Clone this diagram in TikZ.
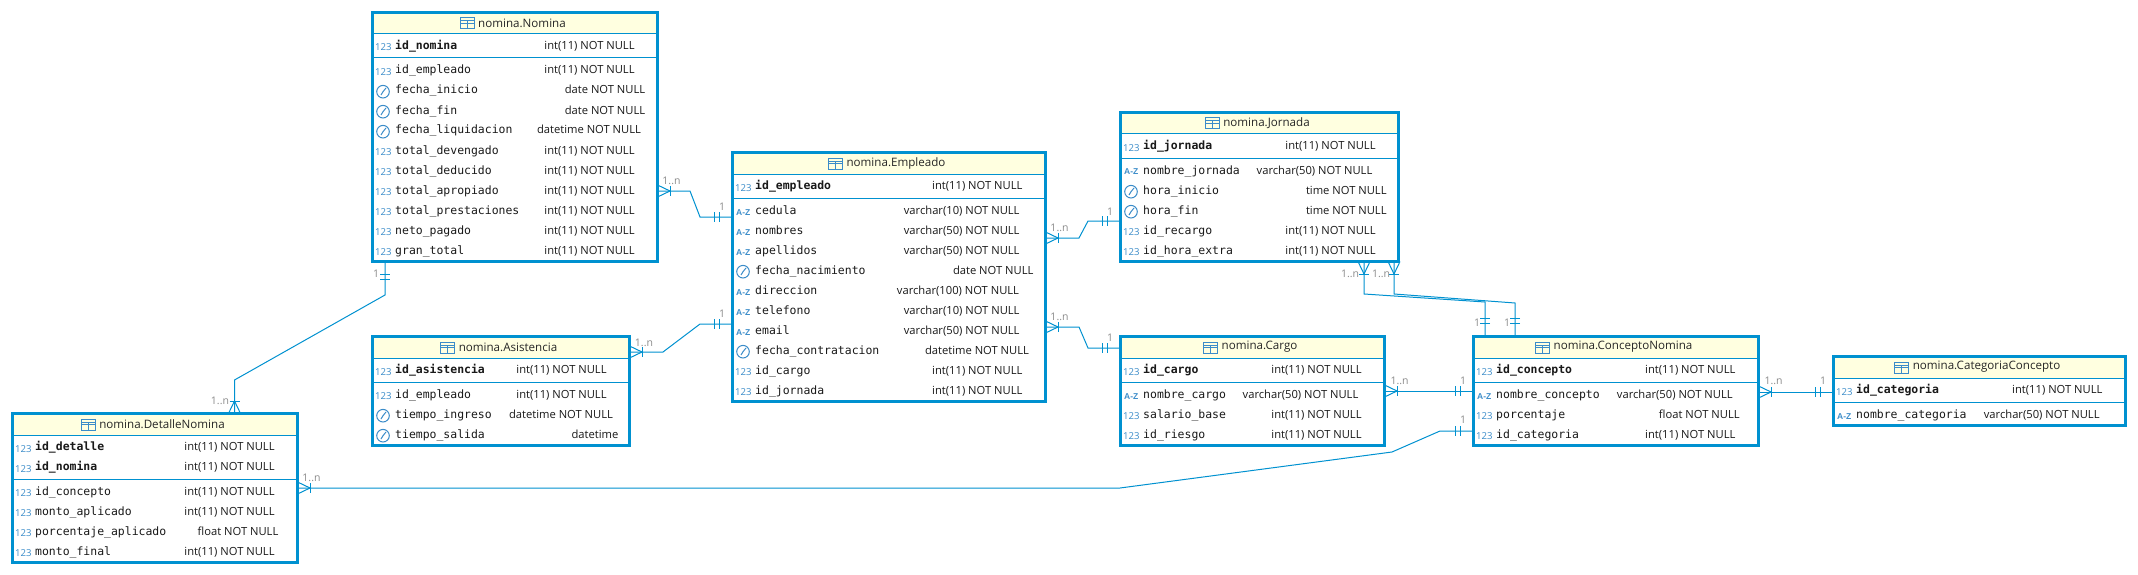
\documentclass[tikz,border=0pt]{standalone}
\usepackage{fontspec}
\setmainfont{Open Sans}
\newfontfamily\colfont{DejaVu Sans Mono}
\newfontfamily\azfont{Liberation Sans}
\usetikzlibrary{decorations.markings}
\definecolor{erblue}{HTML}{0091D0}
\definecolor{iconblue}{HTML}{3B8CC9}
\definecolor{bandyellow}{HTML}{FFFFE0}
\definecolor{cardgray}{HTML}{8C8C8C}
\tikzset{
  % Table box
  tbox/.style={draw=erblue, fill=white, line width=3pt, shape=rectangle,
    inner sep=0pt, outer sep=0pt},
  tband/.style={fill=bandyellow},
  tsep/.style={draw=erblue, line width=1pt},
  ttitle/.style={inner sep=0pt, font=\fontsize{11.6}{13}\selectfont, text=black!85},
  % Columns
  colname/.style={anchor=base west, inner sep=0pt,
    font=\colfont\fontsize{11.46}{13}\selectfont, text=black!90},
  coltype/.style={anchor=base, inner sep=0pt,
    font=\fontsize{11.2}{13}\selectfont, text=black!90},
  icontext/.style={anchor=base west, inner sep=0pt, text=iconblue},
  % Cardinality labels
  card/.style={inner sep=0pt, text=cardgray, font=\fontsize{10.5}{12}\selectfont},
  % Relations, drawn from the many side to the one side
  rel/.style={draw=erblue, line width=1pt, decoration={
      markings,
      mark=at position 12.5pt with {
        \draw[erblue, line width=1pt] (0,-5) -- (0,5);
        \draw[erblue, line width=1pt] (0,0) -- (-12.5,-6);
        \draw[erblue, line width=1pt] (0,0) -- (-12.5,6);},
      mark=at position -18pt with {\draw[erblue, line width=1pt] (0,-5) -- (0,5);},
      mark=at position -13pt with {\draw[erblue, line width=1pt] (0,-5) -- (0,5);}},
    postaction={decorate}},
  % Column icons
  icnum/.pic={\node[icontext, font=\fontsize{9.6}{12}\selectfont] (lbl) at (2.5,1.5) {123};},
  icaz/.pic={\node[icontext, font=\azfont\bfseries\fontsize{8.5}{10}\selectfont] (lbl) at (3.5,1) {A-Z};},
  icclock/.pic={
    \draw[iconblue, line width=1pt] (10.5,-2.3) circle [radius=6.3];
    \draw[iconblue, line width=1pt] (8.5,1) -- (10.5,-2.3) -- (13.5,-6);},
  ictable/.pic={
    \draw[iconblue, line width=1pt] (-7,-5.5) rectangle (7,5.5);
    \draw[iconblue, line width=1pt] (-7,0) -- (7,0) (0,-2) -- (0,5.5);
    \draw[iconblue, line width=1pt] (-7,-2.5) -- (7,-2.5);},
}
% name, centre, width, height, title, offset of the key line
\newcommand{\ertable}[6]{
  \node[tbox, minimum width=#3, minimum height=#4] (#1) at (#2) {};
  \fill[tband] ([shift={(1.5,1.5)}]#1.north west) rectangle ([shift={(-1.5,21.5)}]#1.north east);
  \draw[tsep] ([shift={(0,21.5)}]#1.north west) -- ([shift={(0,21.5)}]#1.north east);
  \draw[tsep] ([shift={(0,#6)}]#1.north west) -- ([shift={(0,#6)}]#1.north east);
  \node[ttitle] (#1-title) at ([shift={(7,10.5)}]#1.north) {#5};
  \pic (#1-icon) at ([shift={(-11,0.5)}]#1-title.west) {ictable};
}
% table, baseline offset, icon, name, type, type centre
\newcommand{\colrow}[6]{
  \pic (#1-i#2) at ([shift={(0,#2)}]#1.north west) {#3};
  \node[colname] (#1-n#2) at ([shift={(22.5,#2)}]#1.north west) {#4};
  \node[coltype] (#1-t#2) at ([shift={(#6,#2)}]#1.north west) {#5};
}
\begin{document}
\begin{tikzpicture}[x=1pt, y=-1pt]
  \useasboundingbox (0,0) rectangle (2138,575);

  \ertable{nomina}{515,137}{285}{249}{nomina.Nomina}{45.5}
  \foreach \yy/\ic/\nm/\ty/\tx in {
    37/icnum/{\bfseries id\_nomina}/int(11) NOT NULL/217,
    61.5/icnum/id\_empleado/int(11) NOT NULL/217,
    81.5/icclock/fecha\_inicio/date NOT NULL/232.5,
    101.5/icclock/fecha\_fin/date NOT NULL/232.5,
    121.5/icclock/fecha\_liquidacion/datetime NOT NULL/216.5,
    141.5/icnum/total\_devengado/int(11) NOT NULL/217,
    161.5/icnum/total\_deducido/int(11) NOT NULL/217,
    181.5/icnum/total\_apropiado/int(11) NOT NULL/217,
    201.5/icnum/total\_prestaciones/int(11) NOT NULL/217,
    221.5/icnum/neto\_pagado/int(11) NOT NULL/217,
    241.5/icnum/gran\_total/int(11) NOT NULL/217}
    {\colrow{nomina}{\yy}{\ic}{\nm}{\ty}{\tx}}

  \ertable{empleado}{889,277}{313}{249}{nomina.Empleado}{45.5}
  \foreach \yy/\ic/\nm/\ty/\tx in {
    37/icnum/{\bfseries id\_empleado}/int(11) NOT NULL/244.8,
    61.5/icaz/cedula/varchar(10) NOT NULL/229.2,
    81.5/icaz/nombres/varchar(50) NOT NULL/229.2,
    101.5/icaz/apellidos/varchar(50) NOT NULL/229.2,
    121.5/icclock/fecha\_nacimiento/date NOT NULL/260.7,
    141.5/icaz/direccion/varchar(100) NOT NULL/225.5,
    161.5/icaz/telefono/varchar(10) NOT NULL/229.2,
    181.5/icaz/email/varchar(50) NOT NULL/229.2,
    201.5/icclock/fecha\_contratacion/datetime NOT NULL/244.5,
    221.5/icnum/id\_cargo/int(11) NOT NULL/244.8,
    241.5/icnum/id\_jornada/int(11) NOT NULL/244.8}
    {\colrow{empleado}{\yy}{\ic}{\nm}{\ty}{\tx}}

  \ertable{detalle}{155,488}{285}{149}{nomina.DetalleNomina}{65.5}
  \foreach \yy/\ic/\nm/\ty/\tx in {
    37/icnum/{\bfseries id\_detalle}/int(11) NOT NULL/217,
    57/icnum/{\bfseries id\_nomina}/int(11) NOT NULL/217,
    81.5/icnum/id\_concepto/int(11) NOT NULL/217,
    101.5/icnum/monto\_aplicado/int(11) NOT NULL/217,
    121.5/icnum/porcentaje\_aplicado/float NOT NULL/225.5,
    141.5/icnum/monto\_final/int(11) NOT NULL/217}
    {\colrow{detalle}{\yy}{\ic}{\nm}{\ty}{\tx}}

  \ertable{asistencia}{501,391}{257}{109}{nomina.Asistencia}{45.5}
  \foreach \yy/\ic/\nm/\ty/\tx in {
    37/icnum/{\bfseries id\_asistencia}/int(11) NOT NULL/189,
    61.5/icnum/id\_empleado/int(11) NOT NULL/189,
    81.5/icclock/tiempo\_ingreso/datetime NOT NULL/188.5,
    101.5/icclock/tiempo\_salida/datetime/222.5}
    {\colrow{asistencia}{\yy}{\ic}{\nm}{\ty}{\tx}}

  \ertable{jornada}{1259.5,187}{278}{149}{nomina.Jornada}{45.5}
  \foreach \yy/\ic/\nm/\ty/\tx in {
    37/icnum/{\bfseries id\_jornada}/int(11) NOT NULL/210,
    61.5/icaz/nombre\_jornada/varchar(50) NOT NULL/194,
    81.5/icclock/hora\_inicio/time NOT NULL/225.8,
    101.5/icclock/hora\_fin/time NOT NULL/225.8,
    121.5/icnum/id\_recargo/int(11) NOT NULL/210,
    141.5/icnum/id\_hora\_extra/int(11) NOT NULL/210}
    {\colrow{jornada}{\yy}{\ic}{\nm}{\ty}{\tx}}

  \ertable{cargo}{1252.5,391}{264}{109}{nomina.Cargo}{45.5}
  \foreach \yy/\ic/\nm/\ty/\tx in {
    37/icnum/{\bfseries id\_cargo}/int(11) NOT NULL/196,
    61.5/icaz/nombre\_cargo/varchar(50) NOT NULL/180,
    81.5/icnum/salario\_base/int(11) NOT NULL/196,
    101.5/icnum/id\_riesgo/int(11) NOT NULL/196}
    {\colrow{cargo}{\yy}{\ic}{\nm}{\ty}{\tx}}

  \ertable{concepto}{1616,391}{285}{109}{nomina.ConceptoNomina}{45.5}
  \foreach \yy/\ic/\nm/\ty/\tx in {
    37/icnum/{\bfseries id\_concepto}/int(11) NOT NULL/216.8,
    61.5/icaz/nombre\_concepto/varchar(50) NOT NULL/201.3,
    81.5/icnum/porcentaje/float NOT NULL/225.8,
    101.5/icnum/id\_categoria/int(11) NOT NULL/216.8}
    {\colrow{concepto}{\yy}{\ic}{\nm}{\ty}{\tx}}

  \ertable{categoria}{1979.5,391}{292}{69}{nomina.CategoriaConcepto}{45.5}
  \foreach \yy/\ic/\nm/\ty/\tx in {
    37/icnum/{\bfseries id\_categoria}/int(11) NOT NULL/223.8,
    61.5/icaz/nombre\_categoria/varchar(50) NOT NULL/208.2}
    {\colrow{categoria}{\yy}{\ic}{\nm}{\ty}{\tx}}

  % Relations
  \draw[rel] (nomina.east |- 0,191) -- (690,191) -- (700,217) -- (empleado.west |- 0,217);
  \draw[rel] (detalle.north -| 234.5,0) -- (234.5,380) -- (385,295) -- (nomina.south -| 385,0);
  \draw[rel] (asistencia.east |- 0,352) -- (663,352) -- (700,324) -- (empleado.west |- 0,324);
  \draw[rel] (empleado.east |- 0,238) -- (1079,238) -- (1088,221) -- (jornada.west |- 0,221);
  \draw[rel] (empleado.east |- 0,327) -- (1079,327) -- (1088,348) -- (cargo.west |- 0,348);
  \draw[rel] (cargo.east |- 0,391) -- (concepto.west |- 0,391);
  \draw[rel] (detalle.east |- 0,488) -- (1120,488) -- (1392,452) -- (1440,431) -- (concepto.west |- 0,431);
  \draw[rel] (jornada.south -| 1364,0) -- (1364,294) -- (1485,302) -- (concepto.north -| 1485,0);
  \draw[rel] (jornada.south -| 1394,0) -- (1394,294) -- (1515,303) -- (concepto.north -| 1515,0);
  \draw[rel] (concepto.east |- 0,392) -- (categoria.west |- 0,392);

  % Cardinalities
  \node[card] (card1) at (671.5,181) {1..n};
  \node[card] (card2) at (722,207) {1};
  \node[card] (card3) at (376,274) {1};
  \node[card] (card4) at (220,401) {1..n};
  \node[card] (card5) at (644,343) {1..n};
  \node[card] (card6) at (722,314) {1};
  \node[card] (card7) at (1059.5,228) {1..n};
  \node[card] (card8) at (1110,212) {1};
  \node[card] (card9) at (1059.5,317) {1..n};
  \node[card] (card10) at (1110,338) {1};
  \node[card] (card11) at (1399.5,381) {1..n};
  \node[card] (card12) at (1463,381) {1};
  \node[card] (card13) at (311.5,478) {1..n};
  \node[card] (card14) at (1463,420) {1};
  \node[card] (card15) at (1350,274) {1..n};
  \node[card] (card16) at (1381,274) {1..n};
  \node[card] (card17) at (1477,323) {1};
  \node[card] (card18) at (1507,323) {1};
  \node[card] (card19) at (1773.5,381) {1..n};
  \node[card] (card20) at (1823,381) {1};
\end{tikzpicture}
\end{document}
